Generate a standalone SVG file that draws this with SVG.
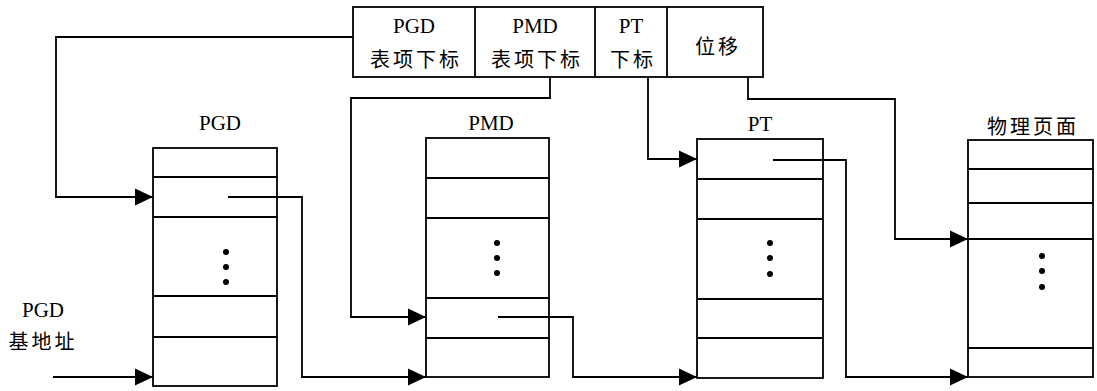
<svg xmlns="http://www.w3.org/2000/svg" width="1097" height="391" viewBox="0 0 1097 391">
  <style>
    .box { fill: none; stroke: #000; stroke-width: 1.8; }
    .row { stroke: #000; stroke-width: 1.8; }
    .link { fill: none; stroke: #000; stroke-width: 1.8; }
    .dot { fill: #000; }
    .lat { font-family: "Liberation Serif", "Times New Roman", serif; font-size: 21px; fill: #000; text-anchor: middle; }
    .cjk { font-family: "Liberation Serif", "Noto Sans CJK SC", sans-serif; font-size: 20px; fill: #000; text-anchor: middle; letter-spacing: 3px; }
  </style>
  <defs>
    <marker id="arrow" markerUnits="userSpaceOnUse" markerWidth="20" markerHeight="20" viewBox="0 0 20 20" refX="19" refY="10" orient="auto">
      <path d="M1,1.5 L19,10 L1,18.5 Z" fill="#000"/>
    </marker>
  </defs>
  <rect width="1097" height="391" fill="#fff"/>

  <!-- linear address fields -->
  <g id="address">
    <rect class="box" x="353" y="7" width="410" height="70"/>
    <line class="row" x1="475" y1="7" x2="475" y2="77"/>
    <line class="row" x1="595" y1="7" x2="595" y2="77"/>
    <line class="row" x1="667" y1="7" x2="667" y2="77"/>
    <text class="lat" x="414" y="33">PGD</text>
    <text class="cjk" x="416" y="67">表项下标</text>
    <text class="lat" x="535" y="33">PMD</text>
    <text class="cjk" x="537" y="67">表项下标</text>
    <text class="lat" x="631" y="33">PT</text>
    <text class="cjk" x="633" y="67">下标</text>
    <text class="cjk" x="718" y="54">位移</text>
  </g>

  <!-- page global directory -->
  <g id="pgd">
    <text class="lat" x="220" y="130">PGD</text>
    <rect class="box" x="153" y="148" width="124" height="238"/>
    <line class="row" x1="153" y1="177" x2="277" y2="177"/>
    <line class="row" x1="153" y1="217" x2="277" y2="217"/>
    <line class="row" x1="153" y1="296" x2="277" y2="296"/>
    <line class="row" x1="153" y1="337" x2="277" y2="337"/>
    <circle class="dot" cx="226" cy="252" r="3"/>
    <circle class="dot" cx="226" cy="267" r="3"/>
    <circle class="dot" cx="226" cy="282" r="3"/>
  </g>

  <!-- page middle directory -->
  <g id="pmd">
    <text class="lat" x="491" y="130">PMD</text>
    <rect class="box" x="426" y="138" width="123" height="239"/>
    <line class="row" x1="426" y1="178" x2="549" y2="178"/>
    <line class="row" x1="426" y1="218" x2="549" y2="218"/>
    <line class="row" x1="426" y1="298" x2="549" y2="298"/>
    <line class="row" x1="426" y1="338" x2="549" y2="338"/>
    <circle class="dot" cx="497" cy="243" r="3"/>
    <circle class="dot" cx="497" cy="258" r="3"/>
    <circle class="dot" cx="497" cy="273" r="3"/>
  </g>

  <!-- page table -->
  <g id="pt">
    <text class="lat" x="760" y="131">PT</text>
    <rect class="box" x="697" y="139" width="126" height="239"/>
    <line class="row" x1="697" y1="179" x2="823" y2="179"/>
    <line class="row" x1="697" y1="219" x2="823" y2="219"/>
    <line class="row" x1="697" y1="299" x2="823" y2="299"/>
    <line class="row" x1="697" y1="338" x2="823" y2="338"/>
    <circle class="dot" cx="770" cy="243" r="3"/>
    <circle class="dot" cx="770" cy="258" r="3"/>
    <circle class="dot" cx="770" cy="274" r="3"/>
  </g>

  <!-- physical page -->
  <g id="page">
    <text class="cjk" x="1033" y="134">物理页面</text>
    <rect class="box" x="968" y="140" width="125" height="237"/>
    <line class="row" x1="968" y1="169" x2="1093" y2="169"/>
    <line class="row" x1="968" y1="203" x2="1093" y2="203"/>
    <line class="row" x1="968" y1="239" x2="1093" y2="239"/>
    <line class="row" x1="968" y1="348" x2="1093" y2="348"/>
    <circle class="dot" cx="1042" cy="256" r="3"/>
    <circle class="dot" cx="1042" cy="271" r="3"/>
    <circle class="dot" cx="1042" cy="287" r="3"/>
  </g>

  <!-- base address label -->
  <g id="base">
    <text class="lat" x="43" y="317">PGD</text>
    <text class="cjk" x="43" y="349">基地址</text>
  </g>

  <g id="connectors">
    <path class="link" d="M353,37 H56 V197 H153" marker-end="url(#arrow)"/>
    <path class="link" d="M550,77 V98 H351 V317 H426" marker-end="url(#arrow)"/>
    <path class="link" d="M648,77 V159 H697" marker-end="url(#arrow)"/>
    <path class="link" d="M748,77 V99 H895 V239 H968" marker-end="url(#arrow)"/>
    <path class="link" d="M53,377 H153" marker-end="url(#arrow)"/>
    <path class="link" d="M228,197 H302 V377 H426" marker-end="url(#arrow)"/>
    <path class="link" d="M498,317 H573 V377 H697" marker-end="url(#arrow)"/>
    <path class="link" d="M773,160 H846 V377 H968" marker-end="url(#arrow)"/>
  </g>
</svg>
